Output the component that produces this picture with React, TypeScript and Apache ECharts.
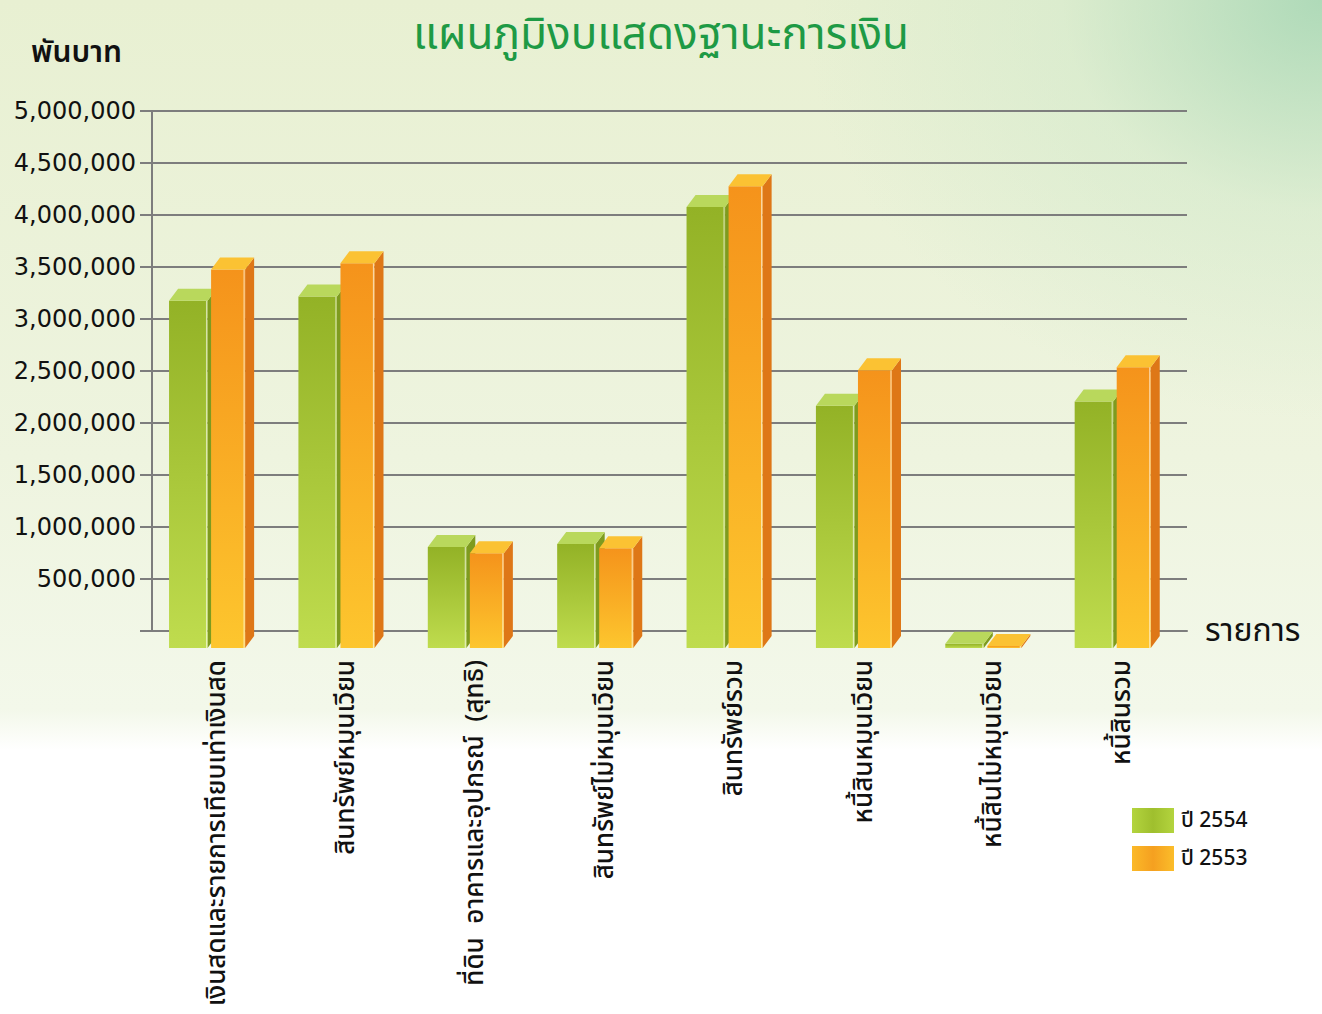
import React, { useEffect, useRef } from "react";
import * as echarts from "echarts";

const categories = [
  "เงินสดและรายการเทียบเท่าเงินสด",
  "สินทรัพย์หมุนเวียน",
  "ที่ดิน  อาคารและอุปกรณ์  (สุทธิ)",
  "สินทรัพย์ไม่หมุนเวียน",
  "สินทรัพย์รวม",
  "หนี้สินหมุนเวียน",
  "หนี้สินไม่หมุนเวียน",
  "หนี้สินรวม",
];
const seriesNames = ["ปี 2554", "ปี 2553"];
const values2554 = [3340000, 3380000, 970000, 1000000, 4240000, 2330000, 40000, 2370000];
const values2553 = [3640000, 3700000, 910000, 960000, 4440000, 2670000, 20000, 2700000];
const yTicks = [0, 500000, 1000000, 1500000, 2000000, 2500000, 3000000, 3500000, 4000000, 4500000, 5000000];

const THAI = "'Noto Sans Thai', 'Noto Sans Thai UI', Loma, Garuda, 'Tlwg Typist', 'Noto Sans', sans-serif";

const palette = [
  { front: ["#93b226", "#bfdc4e"], top: "#b9d85c", side: "#7e9b1f" },
  { front: ["#f5931b", "#fdc62e"], top: "#fbc233", side: "#de7717" },
];

export default function App() {
  const ref = useRef<HTMLDivElement>(null);
  useEffect(() => {
    document.body.style.margin = "0";
    const chart = echarts.init(ref.current!, null, { renderer: "svg" });
    const makeSeries = (idx: number, vals: number[]) => ({
      type: "custom",
      name: seriesNames[idx],
      data: vals.map((v, i) => [i, v]),
      itemStyle: { color: palette[idx].front[1] },
      renderItem: (params: any, api: any) => {
        const ci = api.value(0);
        const v = api.value(1);
        const [cx, yv] = api.coord([ci, v]);
        const [, y0] = api.coord([ci, 0]);
        const bw = api.size([1, 0])[0];
        const k = bw / 129.25;
        const L = idx === 0 ? cx - 47.6 * k : cx - 5.6 * k;
        const W = idx === 0 ? 38.5 * k : 34 * k;
        const dx = 9 * k;
        const ty = 12;
        const offY = 17;
        const p = palette[idx];
        const ft = yv + offY;
        const fb = y0 + offY;
        return {
          type: "group",
          children: [
            {
              type: "polygon",
              shape: { points: [[L + W, ft], [L + W + dx, ft - ty], [L + W + dx, fb - ty], [L + W, fb]] },
              style: { fill: p.side },
            },
            {
              type: "rect",
              shape: { x: L, y: ft, width: W, height: Math.max(fb - ft, 0) },
              style: {
                fill: new echarts.graphic.LinearGradient(0, 0, 0, 1, [
                  { offset: 0, color: p.front[0] },
                  { offset: 1, color: p.front[1] },
                ]),
              },
            },
            {
              type: "line",
              shape: { x1: L + W - 1, y1: ft, x2: L + W - 1, y2: fb },
              style: { stroke: "rgba(255,255,255,0.6)", lineWidth: 1.2 },
            },
            {
              type: "polygon",
              shape: { points: [[L, ft], [L + W, ft], [L + W + dx, ft - ty], [L + dx, ft - ty]] },
              style: { fill: p.top },
            },
          ],
        };
      },
    });

    chart.setOption({
      animation: false,
      title: {
        text: "แผนภูมิงบแสดงฐานะการเงิน",
        left: "center",
        top: 8,
        textStyle: { fontFamily: THAI, fontSize: 44, fontWeight: "normal", color: "#1e9a45" },
      },
      graphic: [
        {
          type: "text",
          left: 31,
          top: 38,
          style: { text: "พันบาท", font: `600 30px ${THAI}`, fill: "#111" },
        },
      ],
      legend: {
        orient: "vertical",
        left: 1127,
        top: 803,
        itemWidth: 42,
        itemHeight: 25,
        itemGap: 13,
        icon: "rect",
        textStyle: { fontFamily: THAI, fontSize: 21, fontWeight: 500, color: "#111", padding: [0, 0, 0, 2] },
        data: [
          {
            name: seriesNames[0],
            itemStyle: {
              color: new echarts.graphic.LinearGradient(0, 0, 1, 0, [
                { offset: 0, color: "#b3d43e" },
                { offset: 0.5, color: "#9fbf2e" },
                { offset: 1, color: "#b3d43e" },
              ]),
            },
          },
          {
            name: seriesNames[1],
            itemStyle: {
              color: new echarts.graphic.LinearGradient(0, 0, 1, 0, [
                { offset: 0, color: "#fbb928" },
                { offset: 0.5, color: "#f5a020" },
                { offset: 1, color: "#fbbd2a" },
              ]),
            },
          },
        ],
      },
      grid: { left: 152, right: 135, top: 111, bottom: 383, containLabel: false },
      xAxis: {
        type: "category",
        data: categories,
        name: "รายการ",
        nameLocation: "end",
        nameGap: 18,
        nameTextStyle: { fontFamily: THAI, fontSize: 32, color: "#111", verticalAlign: "middle", padding: [20, 0, 0, 0] },
        axisLine: { show: true, lineStyle: { color: "#7d7d7d", width: 2 } },
        axisTick: { show: false },
        axisLabel: {
          rotate: 90,
          interval: 0,
          margin: 29,
          fontFamily: THAI,
          fontSize: 26,
          fontWeight: 500,
          color: "#111",
          padding: [0, 0, 18, 0],
        },
        z: 1,
      },
      yAxis: {
        type: "value",
        min: yTicks[0],
        max: yTicks[yTicks.length - 1],
        interval: yTicks[1] - yTicks[0],
        axisLine: { show: true, lineStyle: { color: "#7d7d7d", width: 2 } },
        axisTick: { show: true, length: 12, lineStyle: { color: "#7d7d7d", width: 2 } },
        axisLabel: {
          margin: 16,
          fontFamily: "'DejaVu Sans', sans-serif",
          fontSize: 24,
          color: "#111",
          formatter: (v: number) => (v === 0 ? "" : v.toLocaleString("en-US")),
        },
        splitLine: { show: true, lineStyle: { color: "#7d7d7d", width: 2 } },
        z: 1,
      },
      series: [makeSeries(0, values2554), makeSeries(1, values2553)],
    });
    return () => chart.dispose();
  }, []);

  return (
    <div
      ref={ref}
      style={{
        width: 1322,
        height: 1014,
        background:
          "radial-gradient(ellipse 520px 420px at 100% 0%, rgba(165,214,180,0.85) 0%, rgba(200,230,200,0.4) 50%, rgba(255,255,255,0) 100%), linear-gradient(to bottom, #e8f0d2 0%, #eef4df 45%, #f3f8ea 70%, #ffffff 74%, #ffffff 100%)",
      }}
    />
  );
}
